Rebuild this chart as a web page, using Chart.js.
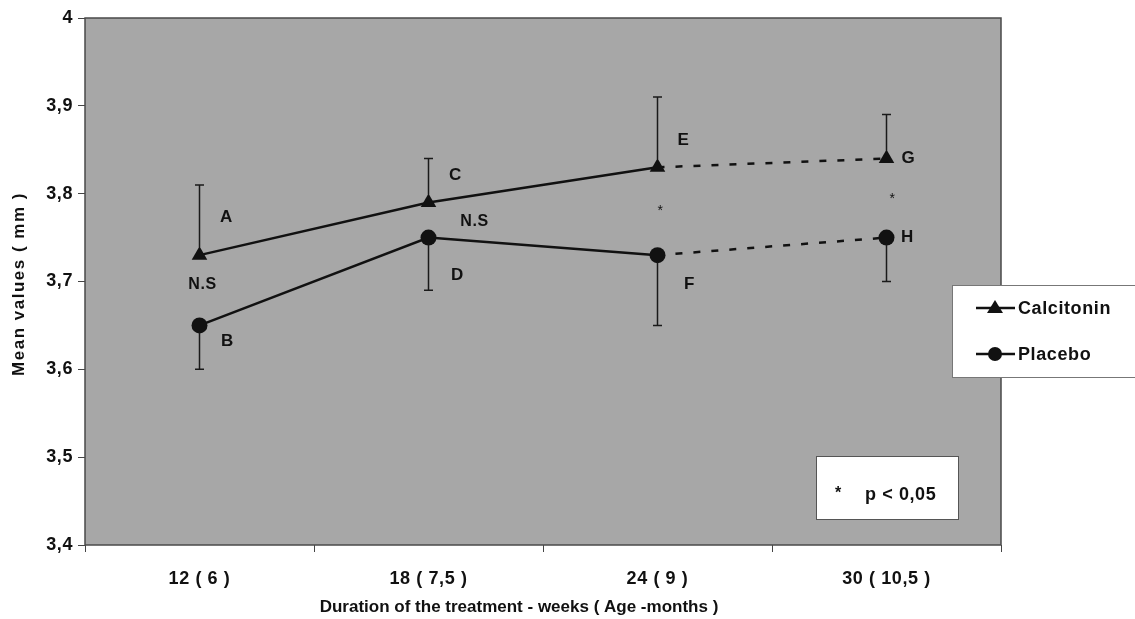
<!DOCTYPE html>
<html><head><meta charset="utf-8">
<script src="https://cdn.jsdelivr.net/npm/chart.js@4"></script>
<style>html,body{margin:0;padding:0;background:#fff}#wrap{width:1135px;height:619px}</style>
</head><body><div id="wrap"><canvas id="c" width="1135" height="619"></canvas></div>
<script>
const categories = ['12 ( 6 )', '18 ( 7,5 )', '24 ( 9 )', '30 ( 10,5 )'];
const calcitonin = [3.73, 3.79, 3.83, 3.84];
const calcitoninErrUpper = [3.81, 3.84, 3.91, 3.89];
const placebo = [3.65, 3.75, 3.73, 3.75];
const placeboErrLower = [3.60, 3.69, 3.65, 3.70];
const calcitoninLetters = ['A', 'C', 'E', 'G'];
const placeboLetters = ['B', 'D', 'F', 'H'];
const sigMarks = ['N.S', 'N.S', '*', '*'];
const sigValues = [3.697, 3.768, 3.784, 3.797];
const yTicks = [3.4, 3.5, 3.6, 3.7, 3.8, 3.9, 4.0];
const yTickLabels = ['3,4', '3,5', '3,6', '3,7', '3,8', '3,9', '4'];
const xTitle = 'Duration of the treatment - weeks ( Age -months )';
const yTitle = 'Mean values ( mm )';

const FONT = '"Liberation Sans", Arial, sans-serif';
const dashLast = ctx => ctx.p0DataIndex >= 2 ? [7, 11] : undefined;

const overlay = {
  id: 'overlay',
  beforeDraw(chart) {
    const {ctx, chartArea: a} = chart;
    ctx.letterSpacing = '0.6px';
    ctx.save();
    ctx.fillStyle = '#a7a7a7';
    ctx.fillRect(a.left, a.top, a.right - a.left, a.bottom - a.top);
    ctx.restore();
  },
  afterDatasetsDraw(chart) {
    const {ctx, chartArea: a} = chart;
    const xs = chart.scales.x, ys = chart.scales.y;
    ctx.save();
    // border
    ctx.strokeStyle = '#4a4a4a'; ctx.lineWidth = 1.5;
    ctx.strokeRect(a.left, a.top, a.right - a.left, a.bottom - a.top);
    // error bars
    ctx.strokeStyle = '#1a1a1a'; ctx.lineWidth = 1.5;
    const bar = (x, y0, y1) => {
      ctx.beginPath(); ctx.moveTo(x, y0); ctx.lineTo(x, y1);
      ctx.moveTo(x - 4.5, y1); ctx.lineTo(x + 4.5, y1); ctx.stroke();
    };
    categories.forEach((c, i) => {
      const x = xs.getPixelForValue(i);
      bar(x, ys.getPixelForValue(calcitonin[i]) - 8, ys.getPixelForValue(calcitoninErrUpper[i]));
      bar(x, ys.getPixelForValue(placebo[i]) + 7, ys.getPixelForValue(placeboErrLower[i]));
    });
    // letters
    ctx.fillStyle = '#111';
    ctx.font = 'bold 17px ' + FONT;
    ctx.textBaseline = 'middle'; ctx.textAlign = 'center';
    const cOff = [[27, 0.043], [27, 0.031], [26, 0.031], [22, 0.0]];
    const pOff = [[28, -0.018], [29, -0.043], [32, -0.033], [21, 0.0]];
    categories.forEach((c, i) => {
      const x = xs.getPixelForValue(i);
      ctx.fillText(calcitoninLetters[i], x + cOff[i][0], ys.getPixelForValue(calcitonin[i] + cOff[i][1]));
      ctx.fillText(placeboLetters[i], x + pOff[i][0], ys.getPixelForValue(placebo[i] + pOff[i][1]));
    });
    // significance marks
    const sigDx = [3, 46, 3, 6];
    sigMarks.forEach((m, i) => {
      ctx.font = (m === '*' ? '14px ' : 'bold 16px ') + FONT;
      ctx.fillText(m, xs.getPixelForValue(i) + sigDx[i], ys.getPixelForValue(sigValues[i]) + (m === '*' ? 3 : 0));
    });
    // p-value box
    ctx.fillStyle = '#fff'; ctx.strokeStyle = '#555'; ctx.lineWidth = 1;
    ctx.fillRect(816, 456, 142, 63); ctx.strokeRect(816.5, 456.5, 142, 63);
    ctx.fillStyle = '#111'; ctx.font = 'bold 16px ' + FONT; ctx.textAlign = 'left';
    ctx.fillText('*', 835, 494);
    ctx.font = 'bold 18px ' + FONT;
    ctx.fillText('p < 0,05', 865, 495);
    // legend box
    ctx.fillStyle = '#fff'; ctx.strokeStyle = '#777';
    ctx.fillRect(952, 285, 190, 92); ctx.strokeRect(952.5, 285.5, 190, 92);
    ctx.strokeStyle = '#111'; ctx.lineWidth = 2.5; ctx.fillStyle = '#111';
    const ly1 = 308, ly2 = 354;
    ctx.beginPath(); ctx.moveTo(976, ly1); ctx.lineTo(1015, ly1); ctx.moveTo(976, ly2); ctx.lineTo(1015, ly2); ctx.stroke();
    ctx.beginPath(); ctx.moveTo(995, ly1 - 8); ctx.lineTo(1003, ly1 + 5); ctx.lineTo(987, ly1 + 5); ctx.closePath(); ctx.fill();
    ctx.beginPath(); ctx.arc(995, ly2, 7, 0, Math.PI * 2); ctx.fill();
    ctx.font = 'bold 18px ' + FONT;
    ctx.fillText('Calcitonin', 1018, ly1 + 1);
    ctx.fillText('Placebo', 1018, ly2 + 1);
    // axis titles
    ctx.font = 'bold 17px ' + FONT; ctx.textAlign = 'center';
    ctx.letterSpacing = '0px';
    ctx.fillText(xTitle, 519, 607);
    ctx.save();
    ctx.translate(19, 284); ctx.rotate(-Math.PI / 2);
    ctx.letterSpacing = '1.5px';
    ctx.fillText(yTitle, 0, 0);
    ctx.restore();
    ctx.restore();
  }
};

new Chart(document.getElementById('c'), {
  type: 'line',
  data: {
    labels: categories,
    datasets: [
      { label: 'Calcitonin', data: calcitonin, borderColor: '#111', backgroundColor: '#111',
        borderWidth: 2.5, pointStyle: 'triangle', pointRadius: 9, pointBorderWidth: 0,
        segment: { borderDash: dashLast } },
      { label: 'Placebo', data: placebo, borderColor: '#111', backgroundColor: '#111',
        borderWidth: 2.5, pointStyle: 'circle', pointRadius: 8, pointBorderWidth: 0,
        segment: { borderDash: dashLast } }
    ]
  },
  options: {
    responsive: false, animation: false,
    layout: { padding: { top: 18, right: 134, left: 0, bottom: 0 } },
    plugins: { legend: { display: false }, tooltip: { enabled: false } },
    scales: {
      x: {
        offset: true,
        grid: { offset: true, drawOnChartArea: false, tickLength: 7, color: '#444', lineWidth: 1 },
        border: { display: false },
        ticks: { color: '#111', font: { family: FONT, size: 18, weight: 'bold' }, padding: 16 },
        afterFit(s) { s.height = 74; }
      },
      y: {
        min: 3.4, max: 4.0,
        afterBuildTicks(s) { s.ticks = yTicks.map(v => ({ value: v })); },
        grid: { drawOnChartArea: false, tickLength: 7, color: '#444' },
        border: { display: false },
        ticks: { color: '#111', font: { family: FONT, size: 18, weight: 'bold' }, padding: 5,
                 callback: (v, i) => yTickLabels[i] },
        afterFit(s) { s.width = 85; }
      }
    }
  },
  plugins: [overlay]
});
</script></body></html>
